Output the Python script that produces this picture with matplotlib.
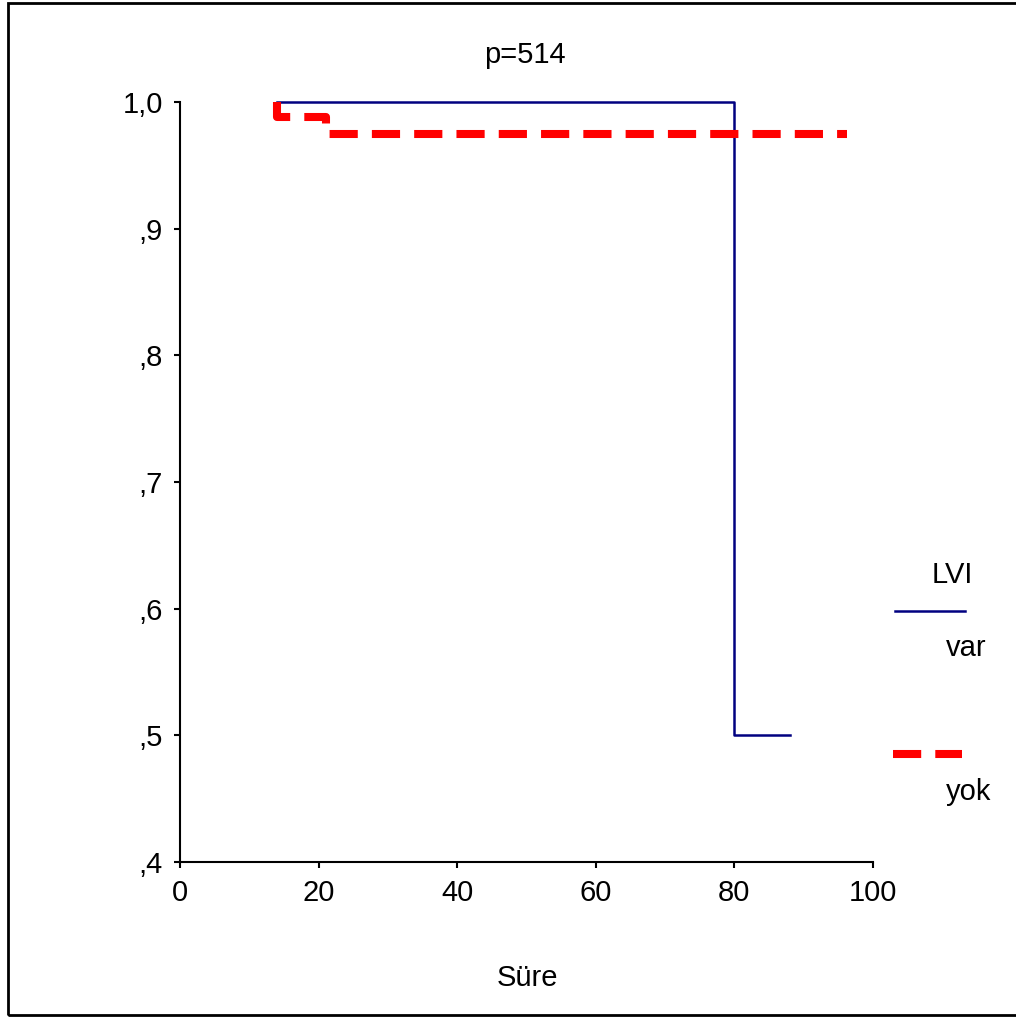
import matplotlib.pyplot as plt
from matplotlib.lines import Line2D
from matplotlib.patches import Rectangle

plt.rcParams['font.family'] = ['Liberation Sans', 'DejaVu Sans']

# Kaplan-Meier curves
var_time = [14, 80, 88]
var_surv = [1.0, 0.5, 0.5]
yok_time = [14, 14, 21, 96.2]
yok_surv = [1.0, 0.988, 0.975, 0.975]

x_ticks = [0, 20, 40, 60, 80, 100]
y_ticks = [0.4, 0.5, 0.6, 0.7, 0.8, 0.9, 1.0]
y_labels = [',4', ',5', ',6', ',7', ',8', ',9', '1,0']

W, H = 1016, 1017
FS = 21
fig = plt.figure(figsize=(W / 100, H / 100), dpi=100)
ax = fig.add_axes([180 / W, 1 - 862 / H, (873 - 180) / W, (862 - 102) / H])

dash = (0, (28 / 8, 14 / 8))
ax.plot(var_time, var_surv, drawstyle='steps-post', color='#000080', lw=1.8, clip_on=False)
ax.plot(yok_time, yok_surv, drawstyle='steps-post', color='#ff0000', lw=5.8,
        linestyle=dash, clip_on=False)

ax.set_xlim(0, 100)
ax.set_ylim(0.4, 1.0)
ax.set_xticks(x_ticks)
ax.set_yticks(y_ticks)
ax.set_yticklabels(y_labels)
ax.tick_params(labelsize=FS, length=4.5, width=1.5)
ax.tick_params(axis='x', pad=8)
ax.tick_params(axis='y', pad=8)
for side in ['top', 'right']:
    ax.spines[side].set_visible(False)
for side in ['left', 'bottom']:
    ax.spines[side].set_linewidth(1.5)

fig.text(525 / W, 1 - 55 / H, 'p=514', fontsize=FS, ha='center', va='center')
fig.text(527 / W, 1 - 978 / H, 'Süre', fontsize=FS, ha='center', va='center')

# legend drawn by hand to match the original layout
fig.text(952 / W, 1 - 575 / H, 'LVI', fontsize=FS, ha='center', va='center')
fig.add_artist(Line2D([895 / W, 965 / W], [1 - 611 / H] * 2, color='#000080', lw=1.8))
fig.text(946 / W, 1 - 648 / H, 'var', fontsize=FS, ha='left', va='center')
fig.add_artist(Line2D([893 / W, 962 / W], [1 - 754 / H] * 2, color='#ff0000', lw=5.8,
                      linestyle=dash))
fig.text(946 / W, 1 - 792 / H, 'yok', fontsize=FS, ha='left', va='center')

fig.add_artist(Rectangle((8 / W, 1 - 1015 / H), 1.0, (1015 - 3) / H, fill=False,
                         edgecolor='black', lw=2, transform=fig.transFigure))

fig.savefig('out.png', dpi=100)
